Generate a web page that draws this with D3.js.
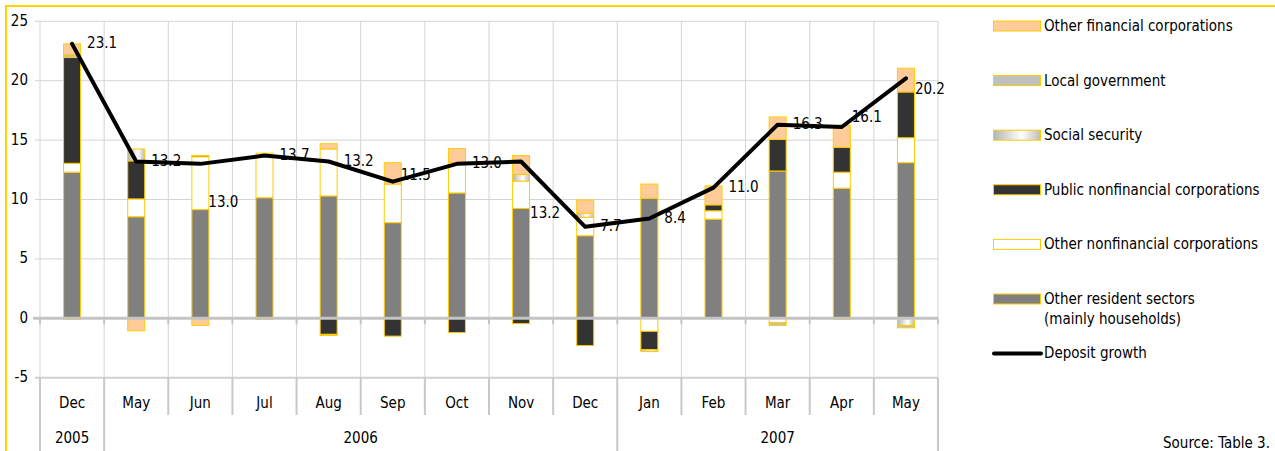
<!DOCTYPE html>
<html>
<head>
<meta charset="utf-8">
<script src="https://cdn.jsdelivr.net/npm/d3@7"></script>
<style>
    body { margin: 0; background: #fff; }
    svg { display: block; font-family: "DejaVu Sans Condensed", "DejaVu Sans", sans-serif; }
</style>
</head>
<body>
<script>
// categories
let months = ["Dec", "May", "Jun", "Jul", "Aug", "Sep", "Oct", "Nov", "Dec", "Jan", "Feb", "Mar", "Apr", "May"];
let yearLabels = ["2005", "2006", "2007"];
let yearSpans = [1, 8, 5];
let yTicks = [-5, 0, 5, 10, 15, 20, 25];

// contributions, percentage points (bottom of stack first)
let otherResident = [12.3, 8.55, 9.15, 10.15, 10.3, 8.05, 10.55, 9.25, 6.95, 10.1, 8.35, 12.4, 10.95, 13.1];
let otherNonfin = [0.75, 1.5, 4.45, 3.75, 3.95, 3.25, 2.55, 2.3, 1.55, -1.1, 0.7, -0.35, 1.35, 2.1];
let publicNonfin = [8.9, 3.2, 0.1, 0, -1.35, -1.5, -1.2, -0.45, -2.3, -1.55, 0.5, 2.65, 2.1, 3.85];
let socialSecurity = [-0.1, 1.0, 0, 0, -0.1, 0, 0, 0.55, 0.35, -0.15, 0, 0, -0.1, -0.6];
let localGov = [0.25, 0, 0, -0.1, 0, 0, 0, 0, 0, 0, 0, -0.25, 0, -0.2];
let otherFinancial = [0.9, -1.05, -0.6, 0, 0.45, 1.8, 1.2, 1.6, 1.1, 1.2, 1.6, 1.9, 1.85, 2.0];
let depositGrowth = [23.1, 13.2, 13.0, 13.7, 13.2, 11.5, 13.0, 13.2, 7.7, 8.4, 11.0, 16.3, 16.1, 20.2];

let seriesNames = ["Other resident sectors\n(mainly households)", "Other nonfinancial corporations",
    "Public nonfinancial corporations", "Social security", "Local government", "Other financial corporations"];
let seriesFills = ["#808080", "#ffffff", "#333333", "url(#ssGrad)", "#c0c0c0", "#ffcc99"];

// label nudges where the point label was moved off the default spot
let labelNudge = { 2: [8, 39], 5: [8, -6], 7: [9, 52], 12: [10, -10], 13: [9, 11] };

run();

function run() {
    let width = 1275, height = 451;
    let svg = d3.select("body").append("svg")
        .attr("width", width)
        .attr("height", height);

    let defs = svg.append("defs");
    let grad = defs.append("linearGradient").attr("id", "ssGrad")
        .attr("x1", "0%").attr("x2", "100%").attr("y1", "0%").attr("y2", "0%");
    grad.append("stop").attr("offset", "0%").attr("stop-color", "#b4b4b4");
    grad.append("stop").attr("offset", "60%").attr("stop-color", "#ffffff");
    grad.append("stop").attr("offset", "100%").attr("stop-color", "#bcbcbc");

    // frame
    svg.append("rect")
        .attr("x", 6).attr("y", 6)
        .attr("width", 1400).attr("height", 600)
        .attr("fill", "none")
        .attr("stroke", "#ffd200")
        .attr("stroke-width", 2);

    let x = d3.scaleBand().domain(d3.range(months.length)).range([40, 938]);
    let y = d3.scaleLinear().domain([-5, 25]).range([377.7, 21.3]);
    let bw = x.bandwidth();
    let barW = 17;
    let cx = function (i) { return x(i) + bw / 2; };

    drawGrid(svg, x, y);
    drawBars(svg, x, y, barW);
    drawCategoryAxis(svg, x, y);
    drawLine(svg, x, y, cx);
    drawLegend(svg);

    svg.append("text")
        .attr("x", 1270).attr("y", 443)
        .attr("text-anchor", "end")
        .attr("dominant-baseline", "middle")
        .attr("font-size", 15)
        .text("Source: Table 3.");
}

function drawGrid(svg, x, y) {
    let g = svg.append("g").attr("class", "grid");
    let n = months.length;

    g.selectAll(".hgrid")
        .data(yTicks.filter(function (t) { return t !== 0 && t !== -5; }))
        .enter().append("line")
        .attr("x1", 35).attr("x2", 938)
        .attr("y1", function (d) { return y(d); })
        .attr("y2", function (d) { return y(d); })
        .attr("stroke", "#d4d4d4").attr("stroke-width", 1);

    g.selectAll(".vgrid")
        .data(d3.range(n + 1))
        .enter().append("line")
        .attr("x1", function (i) { return i < n ? x(i) : x.range()[1]; })
        .attr("x2", function (i) { return i < n ? x(i) : x.range()[1]; })
        .attr("y1", y(25)).attr("y2", y(-5))
        .attr("stroke", "#d4d4d4").attr("stroke-width", 1);

    g.selectAll(".ylab")
        .data(yTicks)
        .enter().append("text")
        .attr("x", 28)
        .attr("y", function (d) { return y(d); })
        .attr("text-anchor", "end")
        .attr("dominant-baseline", "middle")
        .attr("font-size", 15)
        .text(function (d) { return d; });
}

function drawBars(svg, x, y, barW) {
    let rows = months.map(function (m, i) {
        return {
            s0: otherResident[i], s1: otherNonfin[i], s2: publicNonfin[i],
            s3: socialSecurity[i], s4: localGov[i], s5: otherFinancial[i]
        };
    });
    let stack = d3.stack()
        .keys(["s0", "s1", "s2", "s3", "s4", "s5"])
        .offset(d3.stackOffsetDiverging);
    let layers = stack(rows);

    let layer = svg.append("g").attr("class", "bars")
        .selectAll("g")
        .data(layers)
        .enter().append("g")
        .attr("fill", function (d, k) { return seriesFills[k]; });

    layer.selectAll("rect")
        .data(function (d) { return d; })
        .enter().append("rect")
        .filter(function (d) { return Math.abs(d[1] - d[0]) > 1e-9; })
        .attr("x", function (d, i) { return x(rows.indexOf(d.data)) + x.bandwidth() / 2 - barW / 2; })
        .attr("y", function (d) { return y(Math.max(d[0], d[1])); })
        .attr("width", barW)
        .attr("height", function (d) { return Math.abs(y(d[0]) - y(d[1])); })
        .attr("stroke", "#ffcc00")
        .attr("stroke-width", 1);

    svg.selectAll(".bars rect").filter(function () {
        return !this.hasAttribute("y");
    }).remove();
}

function drawCategoryAxis(svg, x, y) {
    let g = svg.append("g").attr("class", "cat");
    let n = months.length;
    let right = x.range()[1];

    // zero line and its ticks
    g.append("line")
        .attr("x1", 33).attr("x2", right)
        .attr("y1", y(0)).attr("y2", y(0))
        .attr("stroke", "#c4c4c4").attr("stroke-width", 3);
    g.selectAll(".ztick")
        .data(d3.range(n + 1))
        .enter().append("line")
        .attr("x1", function (i) { return i < n ? x(i) : right; })
        .attr("x2", function (i) { return i < n ? x(i) : right; })
        .attr("y1", y(0)).attr("y2", y(0) + 6)
        .attr("stroke", "#c4c4c4").attr("stroke-width", 2);

    // table top
    g.append("line")
        .attr("x1", 35).attr("x2", right)
        .attr("y1", y(-5)).attr("y2", y(-5))
        .attr("stroke", "#d0d0d0").attr("stroke-width", 2);

    // year boundaries
    let yearStarts = [0];
    yearSpans.forEach(function (s, k) { yearStarts.push(yearStarts[k] + s); });

    g.selectAll(".msep")
        .data(d3.range(n + 1))
        .enter().append("line")
        .attr("x1", function (i) { return i < n ? x(i) : right; })
        .attr("x2", function (i) { return i < n ? x(i) : right; })
        .attr("y1", y(-5))
        .attr("y2", function (i) { return yearStarts.indexOf(i) >= 0 ? 451 : 415; })
        .attr("stroke", "#c8c8c8").attr("stroke-width", 2);

    g.selectAll(".mlab")
        .data(months)
        .enter().append("text")
        .attr("x", function (d, i) { return x(i) + x.bandwidth() / 2; })
        .attr("y", 403)
        .attr("text-anchor", "middle")
        .attr("dominant-baseline", "middle")
        .attr("font-size", 15)
        .text(function (d) { return d; });

    g.selectAll(".ylab")
        .data(yearLabels)
        .enter().append("text")
        .attr("x", function (d, k) {
            let a = x(yearStarts[k]);
            let b = yearStarts[k + 1] < n ? x(yearStarts[k + 1]) : right;
            return (a + b) / 2;
        })
        .attr("y", 438)
        .attr("text-anchor", "middle")
        .attr("dominant-baseline", "middle")
        .attr("font-size", 15)
        .text(function (d) { return d; });
}

function drawLine(svg, x, y, cx) {
    let line = d3.line()
        .x(function (d, i) { return cx(i); })
        .y(function (d) { return y(d); });

    svg.append("path")
        .datum(depositGrowth)
        .attr("d", line)
        .attr("fill", "none")
        .attr("stroke", "#000")
        .attr("stroke-width", 4)
        .attr("stroke-linejoin", "round")
        .attr("stroke-linecap", "round");

    svg.append("g").selectAll("text")
        .data(depositGrowth)
        .enter().append("text")
        .attr("x", function (d, i) { return cx(i) + (labelNudge[i] ? labelNudge[i][0] : 15); })
        .attr("y", function (d, i) { return y(d) + (labelNudge[i] ? labelNudge[i][1] : 0); })
        .attr("dominant-baseline", "middle")
        .attr("font-size", 15)
        .text(function (d) { return d.toFixed(1); });
}

function drawLegend(svg) {
    let g = svg.append("g").attr("class", "legend");
    let rowH = 54.6;
    let top = 26;
    let order = [5, 4, 3, 2, 1, 0];

    order.forEach(function (k, r) {
        let yy = top + r * rowH;
        g.append("rect")
            .attr("x", 993.5).attr("y", yy - 5)
            .attr("width", 47).attr("height", 10)
            .attr("fill", seriesFills[k])
            .attr("stroke", "#ffcc00").attr("stroke-width", 1);
        let t = g.append("text")
            .attr("x", 1044).attr("y", yy)
            .attr("dominant-baseline", "middle")
            .attr("font-size", 15);
        seriesNames[k].split("\n").forEach(function (s, j) {
            t.append("tspan").attr("x", 1044).attr("dy", j ? 20 : 0).text(s);
        });
    });

    let ly = top + 6 * rowH;
    g.append("line")
        .attr("x1", 994).attr("x2", 1041)
        .attr("y1", ly).attr("y2", ly)
        .attr("stroke", "#000").attr("stroke-width", 4)
        .attr("stroke-linecap", "round");
    g.append("text")
        .attr("x", 1044).attr("y", ly)
        .attr("dominant-baseline", "middle")
        .attr("font-size", 15)
        .text("Deposit growth");
}
</script>
</body>
</html>
